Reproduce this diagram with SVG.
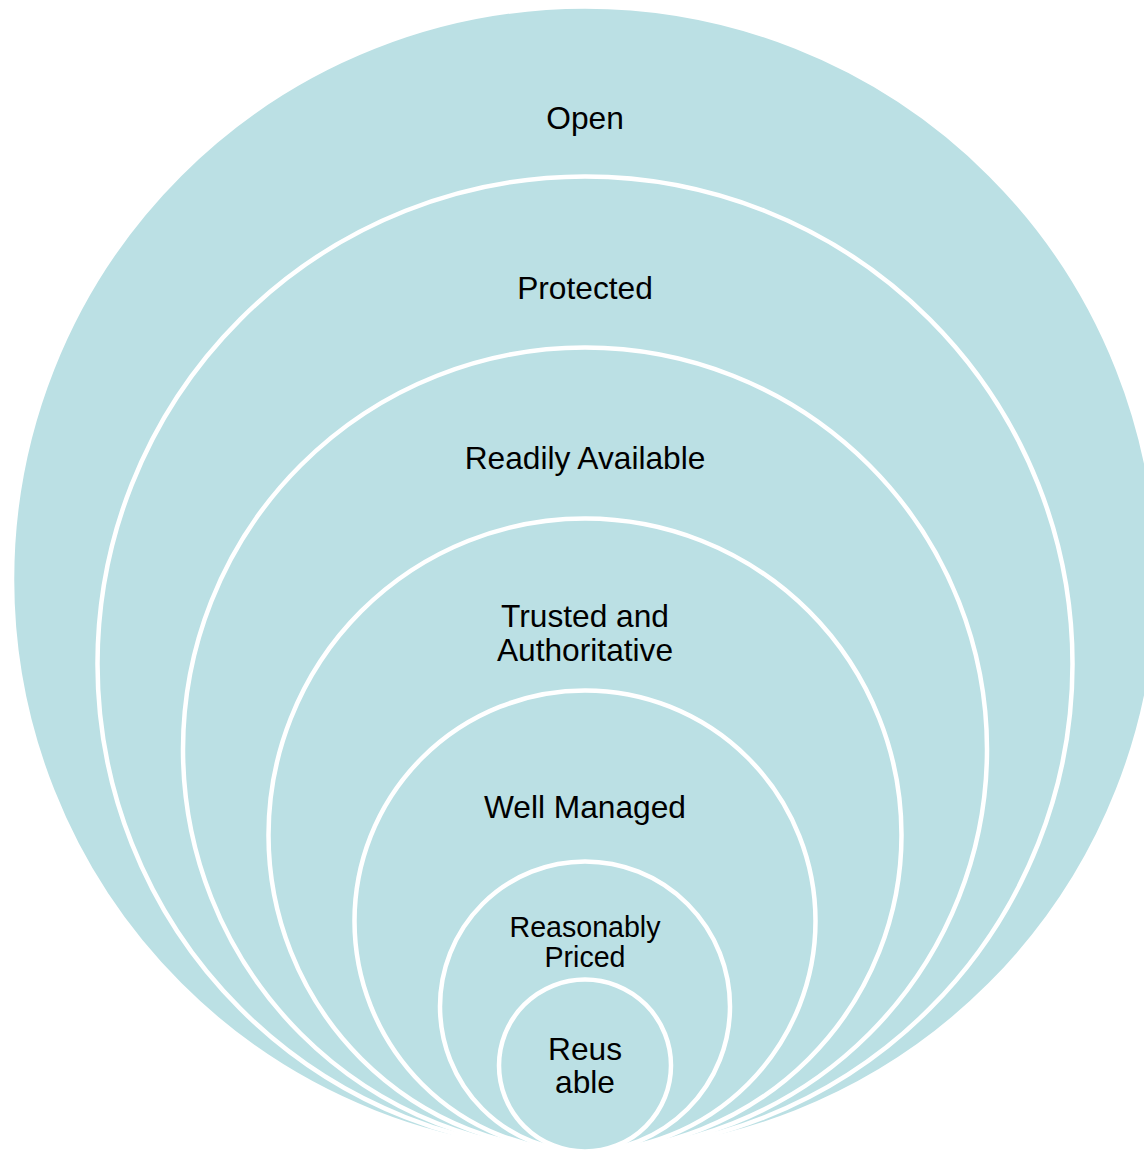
<svg xmlns="http://www.w3.org/2000/svg" width="1144" height="1150" viewBox="0 0 1144 1150">
<style>
.c{fill:#BBE0E4;stroke:#FFFFFF;stroke-width:4.5}
.t{font-family:"Liberation Sans",Arial,sans-serif;font-size:31.7px;fill:#000;text-anchor:middle}
.s{font-size:28.6px}
</style>
<rect width="1144" height="1150" fill="#FFFFFF"/>
<g id="open"><circle class="c" cx="585" cy="579.5" r="573" stroke="none"/><text class="t" x="585" y="129">Open</text></g>
<g id="protected"><circle class="c" cx="585" cy="664" r="487.5"/><text class="t" x="585" y="299">Protected</text></g>
<g id="readily-available"><circle class="c" cx="585" cy="749.5" r="402"/><text class="t" x="585" y="469">Readily Available</text></g>
<g id="trusted"><circle class="c" cx="585" cy="835" r="316.5"/><text class="t" x="585" y="627">Trusted and</text><text class="t" x="585" y="661">Authoritative</text></g>
<g id="well-managed"><circle class="c" cx="585" cy="921" r="230.5"/><text class="t" x="585" y="818">Well Managed</text></g>
<g id="reasonably-priced"><circle class="c" cx="585" cy="1006.5" r="145"/><text class="t s" x="585" y="937">Reasonably</text><text class="t s" x="585" y="967">Priced</text></g>
<g id="reusable"><circle class="c" cx="585" cy="1065.5" r="86"/><text class="t" x="585" y="1060">Reus</text><text class="t" x="585" y="1093">able</text></g>
<g id="connectors"></g>
</svg>
